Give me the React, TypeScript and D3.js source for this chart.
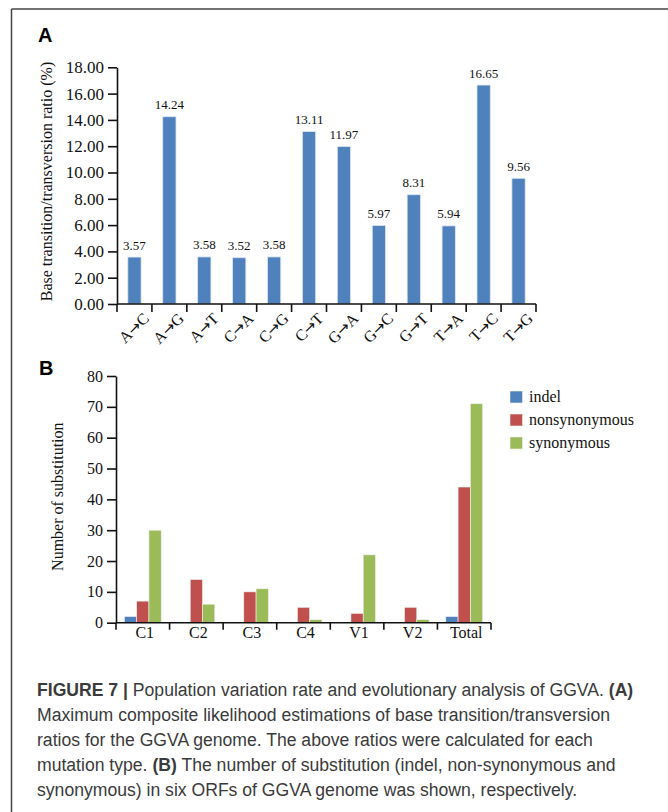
import React, { useEffect, useRef } from 'react';
import * as d3 from 'd3';

// panel A data
const mutationTypes = ['A→C', 'A→G', 'A→T', 'C→A', 'C→G', 'C→T', 'G→A', 'G→C', 'G→T', 'T→A', 'T→C', 'T→G'];
const mutationRatios = [3.57, 14.24, 3.58, 3.52, 3.58, 13.11, 11.97, 5.97, 8.31, 5.94, 16.65, 9.56];
const ratioTicks = [0, 2, 4, 6, 8, 10, 12, 14, 16, 18];

// panel B data
const orfs = ['C1', 'C2', 'C3', 'C4', 'V1', 'V2', 'Total'];
const seriesNames = ['indel', 'nonsynonymous', 'synonymous'];
const indel = [2, 0, 0, 0, 0, 0, 2];
const nonsynonymous = [7, 14, 10, 5, 3, 5, 44];
const synonymous = [30, 6, 11, 1, 22, 1, 71];
const substitutionTicks = [0, 10, 20, 30, 40, 50, 60, 70, 80];
const seriesColors = ['#4F81BD', '#C0504D', '#9BBB59'];

const captionLines = [
  [['FIGURE 7 |', true], [' Population variation rate and evolutionary analysis of GGVA. ', false], ['(A)', true]],
  [['Maximum composite likelihood estimations of base transition/transversion', false]],
  [['ratios for the GGVA genome. The above ratios were calculated for each', false]],
  [['mutation type. ', false], ['(B)', true], [' The number of substitution (indel, non-synonymous and', false]],
  [['synonymous) in six ORFs of GGVA genome was shown, respectively.', false]],
];

const serif = '"Liberation Serif", "Times New Roman", serif';
const sans = '"Liberation Sans", Arial, sans-serif';

export default function App() {
  const ref = useRef(null);

  useEffect(() => {
    draw();
    // eslint-disable-next-line react-hooks/exhaustive-deps
  }, []);

  function drawCategoryAxis(g, x, y0, tickLen) {
    const edges = x.domain().map((d) => x(d) - x.step() * x.paddingOuter());
    edges.push(x.range()[1]);
    g.append('line')
      .attr('x1', x.range()[0])
      .attr('x2', x.range()[1])
      .attr('y1', y0)
      .attr('y2', y0)
      .attr('stroke', '#111')
      .attr('stroke-width', 1.6);
    g.selectAll('.xtick')
      .data(edges)
      .enter()
      .append('line')
      .attr('x1', (d) => d)
      .attr('x2', (d) => d)
      .attr('y1', y0)
      .attr('y2', y0 + tickLen)
      .attr('stroke', '#111')
      .attr('stroke-width', 1.6);
  }

  function drawValueAxis(g, y, x0, ticks, fmt, fontSize) {
    const axis = d3.axisLeft(y).tickValues(ticks).tickFormat(fmt).tickSize(9).tickSizeOuter(0).tickPadding(4);
    const a = g.append('g').attr('transform', `translate(${x0},0)`).call(axis);
    a.select('.domain').attr('stroke', '#111').attr('stroke-width', 1.6);
    a.selectAll('.tick line').attr('stroke', '#111').attr('stroke-width', 1.6);
    a.selectAll('.tick text').attr('fill', '#111').style('font-family', serif).style('font-size', `${fontSize}px`);
  }

  function draw() {
    const svg = d3.select(ref.current);
    svg.selectAll('*').remove();

    // frame
    svg.append('line').attr('x1', 11.5).attr('x2', 668).attr('y1', 9).attr('y2', 9).attr('stroke', '#444').attr('stroke-width', 1.5);
    svg.append('line').attr('x1', 11.5).attr('x2', 11.5).attr('y1', 9).attr('y2', 812).attr('stroke', '#444').attr('stroke-width', 1.5);

    // ---------- panel A ----------
    const gA = svg.append('g');
    gA.append('text').attr('x', 38).attr('y', 42).text('A')
      .style('font-family', sans).style('font-weight', 'bold').style('font-size', '20px');

    const xA = d3.scaleBand().domain(mutationTypes).range([117, 536]).paddingInner(0.62).paddingOuter(0.31);
    const yA = d3.scaleLinear().domain([0, 18]).range([304, 67.3]);

    gA.selectAll('.bar')
      .data(mutationRatios)
      .enter()
      .append('rect')
      .attr('x', (d, i) => xA(mutationTypes[i]))
      .attr('y', (d) => yA(d))
      .attr('width', xA.bandwidth())
      .attr('height', (d) => yA(0) - yA(d))
      .attr('fill', '#4F81BD')
      .attr('stroke', '#DCE6F2')
      .attr('stroke-width', 0.8);

    gA.selectAll('.val')
      .data(mutationRatios)
      .enter()
      .append('text')
      .attr('x', (d, i) => xA(mutationTypes[i]) + xA.bandwidth() / 2)
      .attr('y', (d) => yA(d) - 7.5)
      .attr('text-anchor', 'middle')
      .attr('fill', '#111')
      .style('font-family', serif)
      .style('font-size', '13px')
      .text((d) => d.toFixed(2));

    drawValueAxis(gA, yA, 117, ratioTicks, d3.format('.2f'), 17);
    drawCategoryAxis(gA, xA, 304, 8);

    // rotated category labels, arrow set in a font with a longer arrow glyph
    const cat = gA.selectAll('.cat')
      .data(mutationTypes)
      .enter()
      .append('text')
      .attr('transform', (d) => `translate(${xA(d) + xA.bandwidth() / 2 + 7},${311}) rotate(-45)`)
      .attr('text-anchor', 'end')
      .attr('dy', '0.75em')
      .attr('fill', '#111')
      .style('font-family', serif)
      .style('font-size', '16px');
    cat.append('tspan').text((d) => d[0]);
    cat.append('tspan').style('font-family', '"DejaVu Sans"').style('font-size', '15px').text('→');
    cat.append('tspan').text((d) => d[2]);

    gA.append('text')
      .attr('transform', `translate(${51.5},${181.5}) rotate(-90)`)
      .attr('text-anchor', 'middle')
      .attr('fill', '#111')
      .style('font-family', serif)
      .style('font-size', '16px')
      .text('Base transition/transversion ratio (%)');

    // ---------- panel B ----------
    const gB = svg.append('g');
    gB.append('text').attr('x', 39).attr('y', 375).text('B')
      .style('font-family', sans).style('font-weight', 'bold').style('font-size', '20px');

    const xB = d3.scaleBand().domain(orfs).range([116, 491]);
    const xInner = d3.scaleBand().domain(seriesNames).range([0, xB.bandwidth()]).paddingOuter(0.68);
    const yB = d3.scaleLinear().domain([0, 80]).range([622.7, 376]);
    const seriesValues = [indel, nonsynonymous, synonymous];

    seriesNames.forEach((name, s) => {
      seriesValues[s].forEach((v, i) => {
        if (v <= 0) return;
        gB.append('rect')
          .attr('x', xB(orfs[i]) + xInner(name))
          .attr('y', yB(v))
          .attr('width', xInner.bandwidth())
          .attr('height', yB(0) - yB(v))
          .attr('fill', seriesColors[s])
          .attr('stroke', '#F2F2F2')
          .attr('stroke-width', 0.6);
      });
    });

    drawValueAxis(gB, yB, 116, substitutionTicks, d3.format('d'), 16);
    drawCategoryAxis(gB, xB, 622.7, 7);

    gB.selectAll('.orf')
      .data(orfs)
      .enter()
      .append('text')
      .attr('x', (d) => xB(d) + xB.bandwidth() / 2 + 2)
      .attr('y', 638)
      .attr('text-anchor', 'middle')
      .attr('fill', '#111')
      .style('font-family', serif)
      .style('font-size', '16px')
      .text((d) => d);

    gB.append('text')
      .attr('transform', `translate(${63},${496.7}) rotate(-90)`)
      .attr('text-anchor', 'middle')
      .attr('fill', '#111')
      .style('font-family', serif)
      .style('font-size', '16px')
      .text('Number of substitution');

    const legend = gB.append('g');
    seriesNames.forEach((name, s) => {
      const ly = 397 + s * 23;
      legend.append('rect').attr('x', 510).attr('y', ly - 6).attr('width', 12.5).attr('height', 12)
        .attr('fill', seriesColors[s]).attr('stroke', '#F2F2F2').attr('stroke-width', 0.6);
      legend.append('text').attr('x', 529).attr('y', ly + 5).text(name)
        .attr('fill', '#111').style('font-family', serif).style('font-size', '16px');
    });

    // ---------- caption ----------
    captionLines.forEach((parts, li) => {
      const t = svg.append('text')
        .attr('x', 37)
        .attr('y', 696 + li * 25)
        .attr('fill', '#3a3a3a')
        .style('font-family', sans)
        .style('font-size', '17.6px');
      parts.forEach(([str, bold]) => {
        t.append('tspan').attr('font-weight', bold ? 'bold' : 'normal').text(str);
      });
    });
  }

  return (
    <svg ref={ref} width={668} height={812} style={{ position: 'absolute', left: 0, top: 0, background: '#fff' }} />
  );
}
